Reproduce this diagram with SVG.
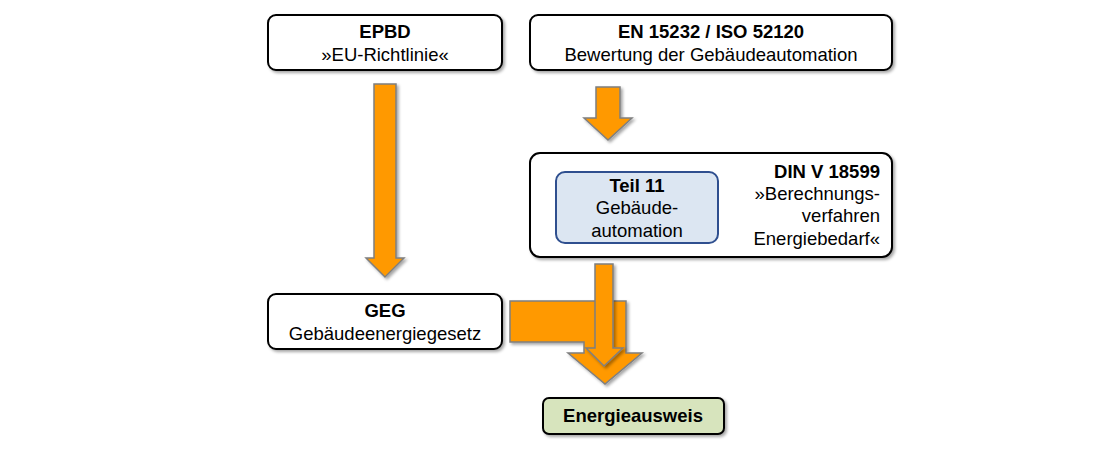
<svg xmlns="http://www.w3.org/2000/svg" width="1100" height="450" viewBox="0 0 1100 450">
<defs>
<filter id="sh" x="-10%" y="-10%" width="130%" height="140%"><feDropShadow dx="2" dy="2" stdDeviation="1.5" flood-color="#000" flood-opacity="0.35"/></filter>
<style>
.box{fill:#fff;stroke:#000;stroke-width:2;filter:url(#sh)}
.arr{fill:#ff9900;stroke:#7f7f7f;stroke-width:1.5;filter:url(#sh)}
text{font-family:"Liberation Sans",Arial,sans-serif;font-size:18.5px;fill:#000}
.b{font-weight:bold}
</style>
</defs>
<rect width="1100" height="450" fill="#fff"/>
<g id="connectors">
<path class="arr" d="M374,84H396V258H404L385,277L366,258H374Z"/>
<path class="arr" d="M596,87H620V118H632L608,140L584,118H596Z"/>
<path class="arr" d="M510,301H626V353H642L605,384L568,353H584V342H510Z"/>
<path class="arr" d="M595,264H613V348H623L604,366L586,348H595Z"/>
</g>
<g id="epbd"><rect class="box" x="268" y="15" width="234" height="55" rx="8"/>
<text class="b" x="385" y="38" text-anchor="middle">EPBD</text><text x="385" y="61" text-anchor="middle">»EU-Richtlinie«</text></g>
<g id="en"><rect class="box" x="530" y="15" width="362" height="55" rx="8"/>
<text class="b" x="711" y="38" text-anchor="middle">EN 15232 / ISO 52120</text><text x="711" y="61" text-anchor="middle">Bewertung der Gebäudeautomation</text></g>
<g id="din"><rect class="box" x="530" y="153" width="362" height="104" rx="10"/>
<text class="b" x="880" y="178" text-anchor="end">DIN V 18599</text>
<text x="880" y="200" text-anchor="end">»Berechnungs-</text>
<text x="880" y="222" text-anchor="end">verfahren</text>
<text x="880" y="245" text-anchor="end">Energiebedarf«</text></g>
<g id="teil11"><rect x="556" y="172" width="162" height="71" rx="9" fill="#dce6f2" stroke="#2f4f8f" stroke-width="2"/>
<text class="b" x="637" y="192" text-anchor="middle">Teil 11</text>
<text x="637" y="214" text-anchor="middle">Gebäude-</text>
<text x="637" y="237" text-anchor="middle">automation</text></g>
<g id="geg"><rect class="box" x="268" y="294" width="234" height="55" rx="8"/>
<text class="b" x="385" y="317" text-anchor="middle">GEG</text><text x="385" y="340" text-anchor="middle">Gebäudeenergiegesetz</text></g>
<g id="energieausweis"><rect class="box" x="543" y="398" width="181" height="36" rx="6" style="fill:#d7e4bd"/>
<text class="b" x="633" y="422" text-anchor="middle">Energieausweis</text></g>
</svg>
